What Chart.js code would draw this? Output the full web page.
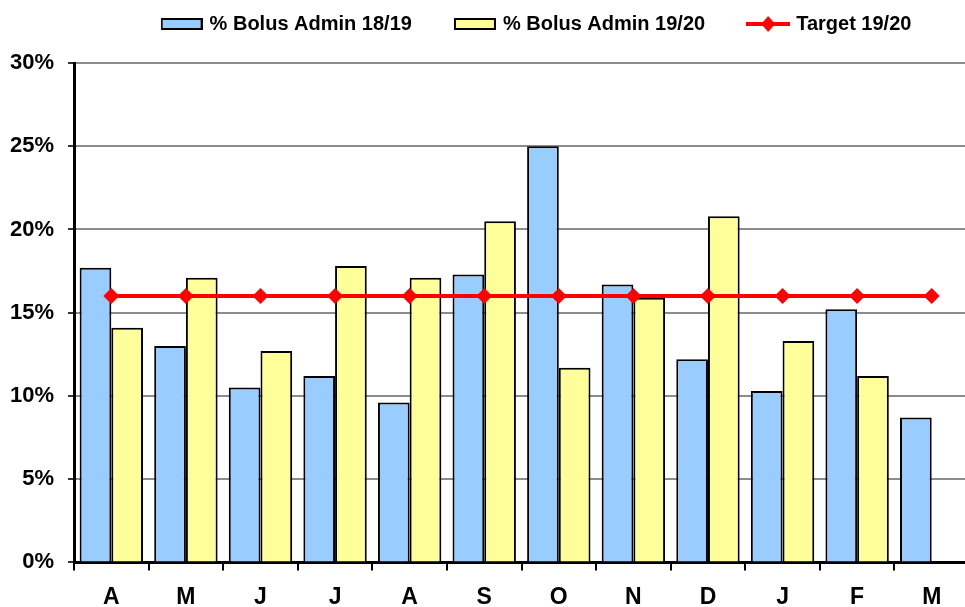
<!DOCTYPE html>
<html>
<head>
<meta charset="utf-8">
<script src="https://cdn.jsdelivr.net/npm/chart.js@4/dist/chart.umd.min.js"></script>
<style>
  html, body { margin: 0; padding: 0; background: #fff; overflow: hidden; }
  /* plot runs a few pixels past the right edge of the window */
  #wrap { width: 969px; height: 607px; position: relative; }
</style>
</head>
<body>
<div id="wrap"><canvas id="c"></canvas></div>
<script>
// Month labels (April to March)
const months = ['A', 'M', 'J', 'J', 'A', 'S', 'O', 'N', 'D', 'J', 'F', 'M'];
// Share of boluses administered, per month (%)
const bolus1819 = [17.7, 13.0, 10.5, 11.2, 9.6, 17.3, 25.0, 16.7, 12.2, 10.3, 15.2, 8.7];
const bolus1920 = [14.1, 17.1, 12.7, 17.8, 17.1, 20.5, 11.7, 15.9, 20.8, 13.3, 11.2, null];
const target1920 = [16, 16, 16, 16, 16, 16, 16, 16, 16, 16, 16, 16];
const yTicks = [0, 5, 10, 15, 20, 25, 30];
const seriesNames = ['% Bolus Admin 18/19', '% Bolus Admin 19/20', 'Target 19/20'];

const BLUE = '#99CCFF', YELLOW = '#FFFF99', RED = '#FF0000';
const FONT = "'Liberation Sans', Arial, sans-serif";

// Small swatches used as legend markers
function boxSwatch(fill) {
  const cv = document.createElement('canvas');
  cv.width = 42; cv.height = 12;
  const g = cv.getContext('2d');
  g.fillStyle = fill; g.fillRect(1, 1, 40, 10);
  g.strokeStyle = '#000'; g.lineWidth = 2; g.strokeRect(1, 1, 40, 10);
  return cv;
}
function lineSwatch() {
  const cv = document.createElement('canvas');
  cv.width = 44; cv.height = 18;
  const g = cv.getContext('2d');
  g.strokeStyle = RED; g.lineWidth = 4;
  g.beginPath(); g.moveTo(0, 9); g.lineTo(44, 9); g.stroke();
  g.fillStyle = RED;
  g.beginPath(); g.moveTo(22 - 7, 9); g.lineTo(22, 1); g.lineTo(22 + 7, 9); g.lineTo(22, 17); g.closePath(); g.fill();
  return cv;
}
const swatches = [boxSwatch(BLUE), boxSwatch(YELLOW), lineSwatch()];

// Nudge the legend row sideways / vertically
const legendShift = {
  id: 'legendShift',
  afterLayout(chart, args, opts) {
    const lg = chart.legend;
    if (lg) {
      lg.left += opts.dx; lg.right += opts.dx;
      lg.top += opts.dy; lg.bottom += opts.dy;
    }
  }
};

new Chart(document.getElementById('c'), {
  type: 'bar',
  data: {
    labels: months,
    datasets: [
      {
        type: 'line', label: seriesNames[2], data: target1920, order: 0,
        borderColor: RED, borderWidth: 4, backgroundColor: RED,
        pointStyle: 'rectRot', pointRadius: 8, pointHoverRadius: 8,
        pointBackgroundColor: RED, pointBorderWidth: 0, tension: 0, fill: false
      },
      {
        label: seriesNames[0], data: bolus1819, order: 1,
        backgroundColor: BLUE, borderColor: '#000', borderWidth: 2,
        categoryPercentage: 0.85, barPercentage: 1.0
      },
      {
        label: seriesNames[1], data: bolus1920, order: 1,
        backgroundColor: YELLOW, borderColor: '#000', borderWidth: 2,
        categoryPercentage: 0.85, barPercentage: 1.0
      }
    ]
  },
  options: {
    responsive: true,
    maintainAspectRatio: false,
    animation: false,
    layout: { autoPadding: false, padding: { left: -4, right: 0, top: -12, bottom: -17 } },
    plugins: {
      tooltip: { enabled: false },
      legendShift: { dx: 55, dy: -19 },
      legend: {
        position: 'top',
        labels: {
          usePointStyle: true,
          pointStyleWidth: 36,
          boxHeight: 12,
          padding: 45,
          color: '#000',
          font: { family: FONT, size: 20, weight: 'bold' },
          generateLabels() {
            return [0, 1, 2].map(i => ({
              text: seriesNames[i], pointStyle: swatches[i],
              fillStyle: 'transparent', strokeStyle: 'transparent', lineWidth: 0,
              hidden: false, datasetIndex: i === 2 ? 0 : i + 1
            }));
          }
        }
      }
    },
    scales: {
      x: {
        offset: true,
        grid: { display: true, drawOnChartArea: false, drawTicks: true, tickLength: 8, color: '#000', lineWidth: 2, offset: true },
        border: { display: true, color: '#000', width: 3 },
        ticks: { color: '#000', padding: 13, font: { family: FONT, size: 23, weight: 'bold' }, maxRotation: 0 }
      },
      y: {
        min: 0, max: 30,
        afterBuildTicks(scale) { scale.ticks = yTicks.map(v => ({ value: v })); },
        grid: { color: '#8c8c8c', lineWidth: 2, tickLength: 6, tickColor: '#333' },
        border: { display: true, color: '#000', width: 3 },
        ticks: { color: '#000', padding: 14, font: { family: FONT, size: 22, weight: 'bold' }, callback: v => v + '%' }
      }
    }
  },
  plugins: [legendShift]
});
</script>
</body>
</html>
